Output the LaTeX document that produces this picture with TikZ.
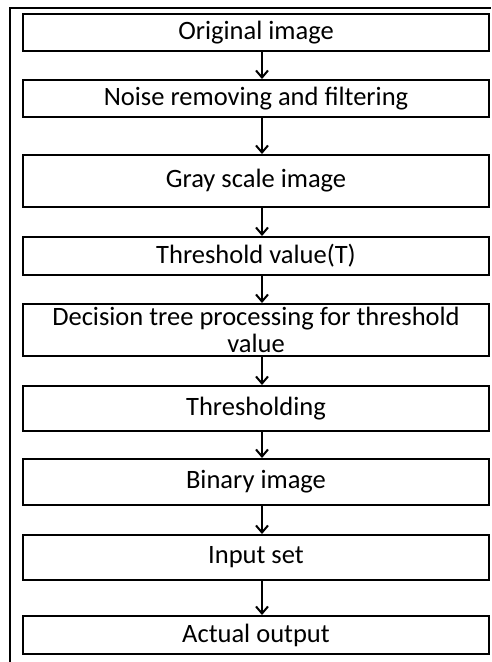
\documentclass[tikz,border=0pt]{standalone}
\usepackage{fontspec}
\setmainfont{Carlito}
\usetikzlibrary{arrows.meta}
\begin{document}
\begin{tikzpicture}[x=1pt,y=-1pt,
  stepbox/.style={draw=black,line width=2pt,fill=white,rectangle,minimum width=466pt,inner sep=0pt,align=center,font=\fontsize{26.5}{26.5}\selectfont,text=black},
  arr/.style={line width=2pt,-{Straight Barb[length=7pt,width=12pt,line width=2pt]}},
  frame/.style={line width=2pt}]
\useasboundingbox (0,0) rectangle (491,662);
\fill[white] (0,0) rectangle (491,662);
\coordinate (fa) at (10,662);
\coordinate (fb) at (10,8);
\coordinate (fc) at (491,8);
\draw[frame] (fa) -- (fb) -- (fc);
\coordinate (ax) at (262,0);
\node[stepbox,minimum height=37pt] (b1) at (256,32.5) {Original image};
\node[stepbox,minimum height=37pt] (b2) at (256,98.5) {Noise removing and filtering};
\node[stepbox,minimum height=52pt] (b3) at (256,181) {Gray scale image};
\node[stepbox,minimum height=38pt] (b4) at (256,256) {Threshold value(T)};
\node[stepbox,minimum height=52pt] (b5) at (256,330) {Decision tree processing for threshold\\value};
\node[stepbox,minimum height=45pt] (b6) at (256,408.5) {Thresholding};
\node[stepbox,minimum height=46pt] (b7) at (256,482) {Binary image};
\node[stepbox,minimum height=45pt] (b8) at (256,557.5) {Input set};
\node[stepbox,minimum height=38pt] (b9) at (256,635) {Actual output};
\foreach \a/\b in {b1/b2,b2/b3,b3/b4,b4/b5,b5/b6,b6/b7,b7/b8,b8/b9}{
  \draw[arr] (\a.south -| ax) -- (\b.north -| ax);
}
\end{tikzpicture}
\end{document}
